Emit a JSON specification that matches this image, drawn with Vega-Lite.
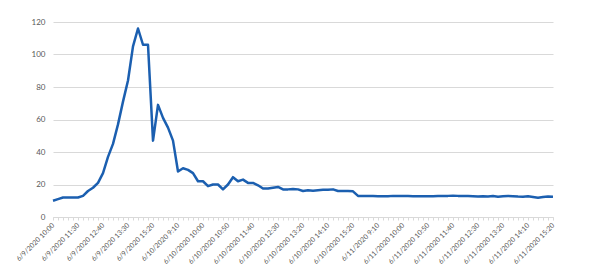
{
  "$schema": "https://vega.github.io/schema/vega-lite/v6.json",
  "width": 500,
  "height": 195,
  "autosize": {"type": "none"},
  "padding": {"left": 53, "top": 22, "right": 39, "bottom": 61},
  "background": "white",
  "config": {"view": {"stroke": null}},
  "data": {"values": [
    {"n":0,"t":"6/9/2020 10:00","v":10},{"n":1,"t":"6/9/2020 10:20","v":11},{"n":2,"t":"6/9/2020 10:40","v":12},{"n":3,"t":"6/9/2020 10:50","v":12},{"n":4,"t":"6/9/2020 11:10","v":12},
    {"n":5,"t":"6/9/2020 11:30","v":12},{"n":6,"t":"6/9/2020 11:40","v":13},{"n":7,"t":"6/9/2020 11:50","v":16},{"n":8,"t":"6/9/2020 12:10","v":18},{"n":9,"t":"6/9/2020 12:30","v":21},
    {"n":10,"t":"6/9/2020 12:40","v":27},{"n":11,"t":"6/9/2020 12:50","v":37},{"n":12,"t":"6/9/2020 13:00","v":45},{"n":13,"t":"6/9/2020 13:10","v":57},{"n":14,"t":"6/9/2020 13:20","v":71},
    {"n":15,"t":"6/9/2020 13:30","v":84},{"n":16,"t":"6/9/2020 13:40","v":105},{"n":17,"t":"6/9/2020 14:10","v":116},{"n":18,"t":"6/9/2020 14:40","v":106},{"n":19,"t":"6/9/2020 15:00","v":106},
    {"n":20,"t":"6/9/2020 15:20","v":47},{"n":21,"t":"6/9/2020 15:30","v":69},{"n":22,"t":"6/9/2020 15:40","v":61},{"n":23,"t":"6/9/2020 15:50","v":55},{"n":24,"t":"6/9/2020 16:00","v":47},
    {"n":25,"t":"6/10/2020 9:10","v":28},{"n":26,"t":"6/10/2020 9:20","v":30},{"n":27,"t":"6/10/2020 9:30","v":29},{"n":28,"t":"6/10/2020 9:40","v":27},{"n":29,"t":"6/10/2020 9:50","v":22},
    {"n":30,"t":"6/10/2020 10:00","v":22},{"n":31,"t":"6/10/2020 10:10","v":19},{"n":32,"t":"6/10/2020 10:20","v":20},{"n":33,"t":"6/10/2020 10:30","v":20},{"n":34,"t":"6/10/2020 10:40","v":17},
    {"n":35,"t":"6/10/2020 10:50","v":20},{"n":36,"t":"6/10/2020 11:00","v":24.5},{"n":37,"t":"6/10/2020 11:10","v":22},{"n":38,"t":"6/10/2020 11:20","v":23},{"n":39,"t":"6/10/2020 11:30","v":21},
    {"n":40,"t":"6/10/2020 11:40","v":21},{"n":41,"t":"6/10/2020 11:50","v":19.5},{"n":42,"t":"6/10/2020 12:00","v":17.5},{"n":43,"t":"6/10/2020 12:10","v":17.5},{"n":44,"t":"6/10/2020 12:20","v":18},
    {"n":45,"t":"6/10/2020 12:30","v":18.5},{"n":46,"t":"6/10/2020 12:40","v":17},{"n":47,"t":"6/10/2020 12:50","v":17},{"n":48,"t":"6/10/2020 13:00","v":17.2},{"n":49,"t":"6/10/2020 13:10","v":17},
    {"n":50,"t":"6/10/2020 13:20","v":16},{"n":51,"t":"6/10/2020 13:30","v":16.5},{"n":52,"t":"6/10/2020 13:40","v":16.2},{"n":53,"t":"6/10/2020 13:50","v":16.5},{"n":54,"t":"6/10/2020 14:00","v":16.7},
    {"n":55,"t":"6/10/2020 14:10","v":16.7},{"n":56,"t":"6/10/2020 14:20","v":17},{"n":57,"t":"6/10/2020 14:30","v":16},{"n":58,"t":"6/10/2020 14:40","v":16},{"n":59,"t":"6/10/2020 15:00","v":16},
    {"n":60,"t":"6/10/2020 15:20","v":15.8},{"n":61,"t":"6/10/2020 15:30","v":13},{"n":62,"t":"6/10/2020 15:40","v":13},{"n":63,"t":"6/10/2020 15:50","v":12.9},{"n":64,"t":"6/10/2020 16:00","v":12.9},
    {"n":65,"t":"6/11/2020 9:10","v":12.8},{"n":66,"t":"6/11/2020 9:20","v":12.7},{"n":67,"t":"6/11/2020 9:30","v":12.8},{"n":68,"t":"6/11/2020 9:40","v":13},{"n":69,"t":"6/11/2020 9:50","v":13},
    {"n":70,"t":"6/11/2020 10:00","v":12.9},{"n":71,"t":"6/11/2020 10:10","v":12.9},{"n":72,"t":"6/11/2020 10:20","v":12.8},{"n":73,"t":"6/11/2020 10:30","v":12.7},{"n":74,"t":"6/11/2020 10:40","v":12.7},
    {"n":75,"t":"6/11/2020 10:50","v":12.8},{"n":76,"t":"6/11/2020 11:00","v":12.8},{"n":77,"t":"6/11/2020 11:10","v":12.9},{"n":78,"t":"6/11/2020 11:20","v":13},{"n":79,"t":"6/11/2020 11:30","v":13},
    {"n":80,"t":"6/11/2020 11:40","v":13.1},{"n":81,"t":"6/11/2020 11:50","v":13},{"n":82,"t":"6/11/2020 12:00","v":13},{"n":83,"t":"6/11/2020 12:10","v":12.9},{"n":84,"t":"6/11/2020 12:20","v":12.8},
    {"n":85,"t":"6/11/2020 12:30","v":12.6},{"n":86,"t":"6/11/2020 12:40","v":12.7},{"n":87,"t":"6/11/2020 12:50","v":12.6},{"n":88,"t":"6/11/2020 13:00","v":12.9},{"n":89,"t":"6/11/2020 13:10","v":12.5},
    {"n":90,"t":"6/11/2020 13:20","v":12.7},{"n":91,"t":"6/11/2020 13:30","v":12.9},{"n":92,"t":"6/11/2020 13:40","v":12.8},{"n":93,"t":"6/11/2020 13:50","v":12.6},{"n":94,"t":"6/11/2020 14:00","v":12.5},
    {"n":95,"t":"6/11/2020 14:10","v":12.7},{"n":96,"t":"6/11/2020 14:20","v":12.3},{"n":97,"t":"6/11/2020 14:30","v":11.9},{"n":98,"t":"6/11/2020 14:40","v":12.3},{"n":99,"t":"6/11/2020 15:00","v":12.6},
    {"n":100,"t":"6/11/2020 15:20","v":12.5}
  ]},
  "mark": {"type": "line", "color": "#1b5fb0", "strokeWidth": 2.5, "strokeJoin": "round"},
  "encoding": {
    "x": {
      "field": "t", "type": "ordinal", "sort": {"field": "n"},
      "scale": {"type": "point", "padding": 0},
      "axis": {
        "title": null,
        "labelAngle": -45, "labelAlign": "right", "labelBaseline": "middle",
        "labelFont": "Lato", "labelFontSize": 7, "labelColor": "#595959",
        "labelOverlap": false, "labelPadding": 4,
        "labelExpr": "indexof(['6/9/2020 10:00','6/9/2020 11:30','6/9/2020 12:40','6/9/2020 13:30','6/9/2020 15:20','6/10/2020 9:10','6/10/2020 10:00','6/10/2020 10:50','6/10/2020 11:40','6/10/2020 12:30','6/10/2020 13:20','6/10/2020 14:10','6/10/2020 15:20','6/11/2020 9:10','6/11/2020 10:00','6/11/2020 10:50','6/11/2020 11:40','6/11/2020 12:30','6/11/2020 13:20','6/11/2020 14:10','6/11/2020 15:20'], datum.value) >= 0 ? datum.value : ''",
        "domainColor": "#d9d9d9", "tickColor": "#d9d9d9", "tickSize": 3, "grid": false
      }
    },
    "y": {
      "field": "v", "type": "quantitative",
      "scale": {"domain": [0, 120], "nice": false},
      "axis": {
        "title": null, "values": [0, 20, 40, 60, 80, 100, 120],
        "domain": false, "ticks": false, "labelPadding": 8,
        "labelFont": "Lato", "labelFontSize": 8, "labelColor": "#595959",
        "gridColor": "#d9d9d9"
      }
    }
  }
}
